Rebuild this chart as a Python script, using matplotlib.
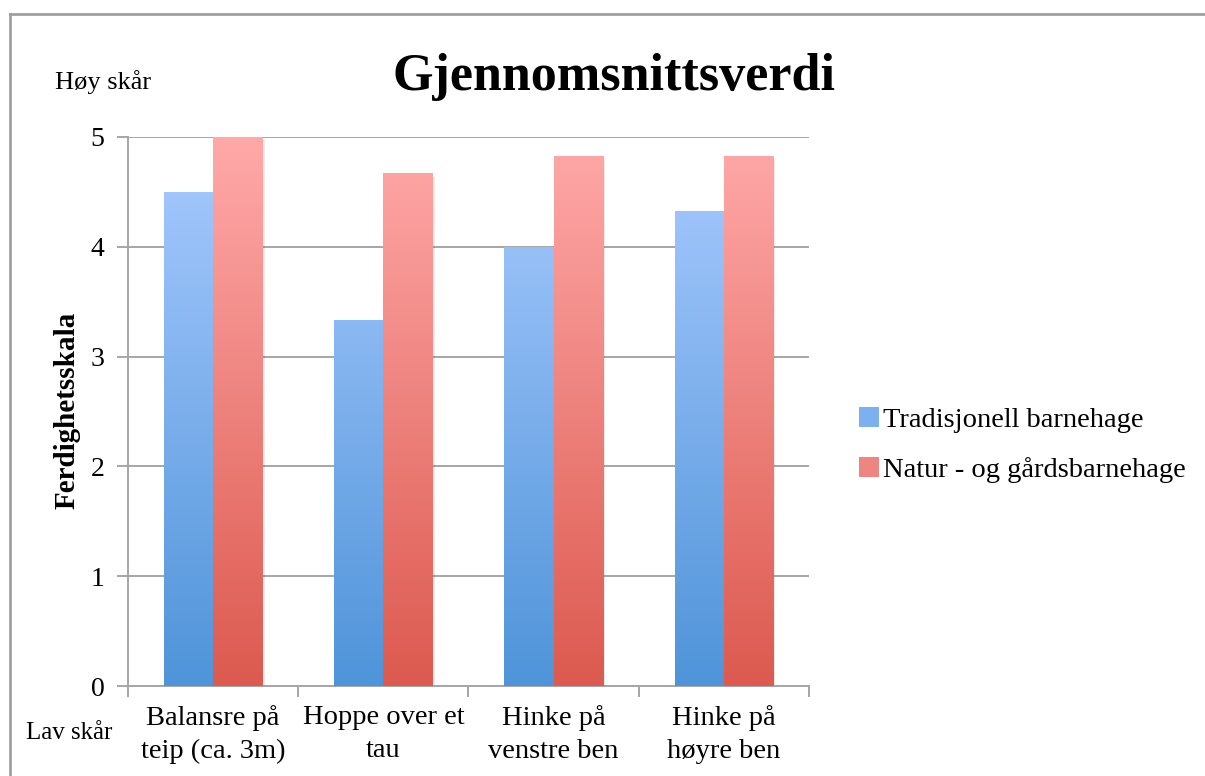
import numpy as np
import matplotlib
matplotlib.use("Agg")
import matplotlib.pyplot as plt
from matplotlib.colors import LinearSegmentedColormap
from matplotlib.lines import Line2D
from matplotlib.patches import Patch

# data
categories = ["Balansre på\nteip (ca. 3m)", "Hoppe over et\ntau",
              "Hinke på\nvenstre ben", "Hinke på\nhøyre ben"]
trad = [4.5, 3.33, 4.0, 4.33]
natur = [5.0, 4.67, 4.83, 4.83]
series_names = ["Tradisjonell barnehage", "Natur - og gårdsbarnehage"]

plt.rcParams['font.family'] = ['Liberation Serif', 'DejaVu Serif']

blue_cmap = LinearSegmentedColormap.from_list("b", ["#4f94d9", "#a9cbff"])
red_cmap = LinearSegmentedColormap.from_list("r", ["#dc5a4f", "#ffa9a9"])
grid_col = "#a6a6a6"


def gradient_bars(ax, bars, cmap):
    grad = np.linspace(0, 1, 256).reshape(-1, 1)
    for b in bars:
        x = b.get_x()
        w, h = b.get_width(), b.get_height()
        # soft shadow
        ax.bar(x + w / 2 + 0.012, h - 0.03, w, bottom=0, color="black",
               alpha=0.08, zorder=2, linewidth=0)
        b.set_facecolor("none")
        im = ax.imshow(grad, extent=[x, x + w, 0, 5], origin="lower",
                       cmap=cmap, aspect="auto", zorder=3)
        im.set_clip_path(b)


def main():
    fig = plt.figure(figsize=(12.05, 7.76), dpi=100)
    ax = fig.add_axes([128 / 1205, 1 - 686 / 776, 681 / 1205, 549 / 776])

    x = np.arange(len(categories))
    w = 0.29
    b1 = ax.bar(x - w / 2, trad, w, zorder=3, linewidth=0)
    b2 = ax.bar(x + w / 2, natur, w, zorder=3, linewidth=0)
    gradient_bars(ax, b1, blue_cmap)
    gradient_bars(ax, b2, red_cmap)

    ax.set_xlim(-0.5, 3.5)
    ax.set_ylim(0, 5)
    ax.set_yticks(range(6))
    ax.yaxis.grid(True, color=grid_col, linewidth=1.4, zorder=0)
    ax.set_axisbelow(True)
    for s in ["top", "right"]:
        ax.spines[s].set_visible(False)
    for s in ["left", "bottom"]:
        ax.spines[s].set_color(grid_col)
        ax.spines[s].set_linewidth(1.4)

    ax.set_xticks(x)
    ax.set_xticklabels(categories, fontsize=20.5, linespacing=1.38)
    ax.set_xticks(np.arange(-0.5, 4, 1), minor=True)
    ax.tick_params(axis="x", which="major", length=0, pad=14)
    ax.tick_params(axis="x", which="minor", length=8, width=1.4, color=grid_col)
    ax.tick_params(axis="y", length=8, width=1.4, color=grid_col,
                   labelsize=20, pad=9)

    fig.text(67 / 1205, 1 - 410 / 776, "Ferdighetsskala", fontsize=21,
             fontweight="bold", rotation=90, ha="center", va="center")

    fig.text(0.5 * (396 + 832) / 1205, 1 - 77 / 776, "Gjennomsnittsverdi",
             fontsize=37.5, fontweight="bold", ha="center", va="center")
    fig.text(55 / 1205, 1 - 82 / 776, "Høy skår", fontsize=19,
             ha="left", va="center")
    fig.text(26 / 1205, 1 - 733 / 776, "Lav skår", fontsize=18,
             ha="left", va="center")

    handles = [Patch(facecolor="#7cb0ee"), Patch(facecolor="#ee8580")]
    fig.legend(handles, series_names, loc="center left",
               bbox_to_anchor=(833 / 1205, 1 - 445 / 776), frameon=False,
               fontsize=20.5, handlelength=0.7, handleheight=0.7,
               handletextpad=0.15, labelspacing=0.85)

    # outer frame
    fig.add_artist(Line2D([10 / 1205, 10 / 1205], [0, 1 - 14 / 776],
                          transform=fig.transFigure, color="#a0a0a0", lw=2))
    fig.add_artist(Line2D([10 / 1205, 1], [1 - 14 / 776, 1 - 14 / 776],
                          transform=fig.transFigure, color="#a0a0a0", lw=2))

    fig.savefig("out.png", dpi=100)


if __name__ == '__main__':
    main()
